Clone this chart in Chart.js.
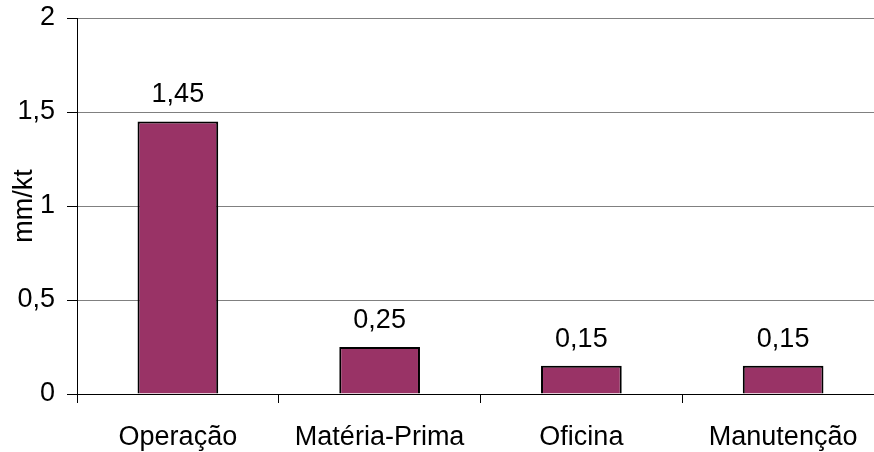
<!DOCTYPE html>
<html>
<head>
<meta charset="utf-8">
<script src="https://cdn.jsdelivr.net/npm/chart.js@4.4.0/dist/chart.umd.min.js"></script>
<style>
  html, body { margin: 0; padding: 0; background: #fff; overflow: hidden; }
  #wrap { width: 884px; height: 452px; }
</style>
</head>
<body>
<div id="wrap"><canvas id="barChart" width="884" height="452"></canvas></div>
<script>
/*............ data ............*/
const categories = ['Operação', 'Matéria-Prima', 'Oficina', 'Manutenção'];
const values = [1.45, 0.25, 0.15, 0.15];
const yTicks = [0, 0.5, 1, 1.5, 2];

const fmt = v => String(v).replace('.', ',');

// labels above each bar
const barLabels = {
  id: 'barLabels',
  afterDatasetsDraw(chart) {
    const ctx = chart.ctx;
    const meta = chart.getDatasetMeta(0);
    ctx.save();
    ctx.font = '27px "Liberation Sans", Arial, sans-serif';
    ctx.fillStyle = '#000';
    ctx.textAlign = 'center';
    ctx.textBaseline = 'alphabetic';
    meta.data.forEach((bar, i) => {
      ctx.fillText(fmt(values[i]), bar.x, bar.y - 19);
    });
    ctx.restore();
  }
};

const config = {
  type: 'bar',
  data: {
    labels: categories,
    datasets: [{
      data: values,
      backgroundColor: '#993366',
      borderColor: '#000',
      borderWidth: 2,
      barPercentage: 0.8,
      categoryPercentage: 0.5
    }]
  },
  options: {
    responsive: false,
    animation: false,
    layout: { padding: { top: 18, right: 0, left: 0, bottom: 0 } },
    plugins: { legend: { display: false }, tooltip: { enabled: false } },
    scales: {
      x: {
        offset: true,
        grid: { offset: true, drawOnChartArea: false, tickLength: 9, tickColor: '#000', lineWidth: 1 },
        border: { color: '#000', width: 1 },
        ticks: { color: '#000', padding: 18, font: { family: '"Liberation Sans", Arial, sans-serif', size: 27 } },
        afterFit: s => { s.height = 58; s.paddingLeft = 0; s.paddingRight = 0; }
      },
      y: {
        min: 0,
        max: 2,
        afterBuildTicks: s => { s.ticks = yTicks.map(v => ({ value: v })); },
        grid: { color: '#808080', tickColor: '#000', tickLength: 10, lineWidth: 1 },
        border: { color: '#000', width: 1 },
        ticks: {
          color: '#000',
          padding: 12,
          font: { family: '"Liberation Sans", Arial, sans-serif', size: 27 },
          callback: v => fmt(v)
        },
        title: {
          display: true,
          text: 'mm/kt',
          color: '#000',
          padding: { top: 8, bottom: 0 },
          font: { family: '"Liberation Sans", Arial, sans-serif', size: 27 }
        },
        afterFit: s => { s.width = 77; s.paddingTop = 0; s.paddingBottom = 0; }
      }
    }
  },
  plugins: [barLabels]
};

const ctx = document.getElementById('barChart').getContext('2d');
const barChart = new Chart(ctx, config);
</script>
</body>
</html>
